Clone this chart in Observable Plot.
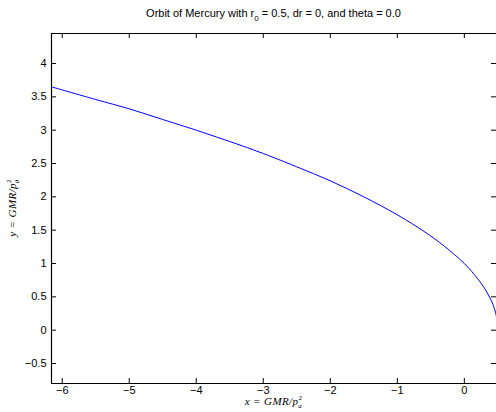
<!DOCTYPE html>
<html>
<head>
<meta charset="utf-8">
<script src="https://cdn.jsdelivr.net/npm/d3@7"></script>
<script src="https://cdn.jsdelivr.net/npm/@observablehq/plot@0.6"></script>
<style>
  body { margin: 0; background: #fff; overflow: hidden; }
  #chart { position: relative; width: 496px; height: 412px; overflow: hidden; }
  #title {
    position: absolute; top: 7px; left: 51px; width: 445px; text-align: center;
    font: 11px "Liberation Sans", Arial, sans-serif; color: #000; z-index: 2;
  }
  #title .sub { font-size: 8px; position: relative; top: 4px; }
</style>
</head>
<body>
<div id="chart">
  <div id="title">Orbit of Mercury with r<span class="sub">0</span> = 0.5, dr = 0, and theta = 0.0</div>
</div>
<script>
// Orbit trace, x = GMR/p_a^2 and y = GMR/p_theta^2
const orbitX = [-6.16, -5.5, -5.0, -4.5, -4.0, -3.5, -3.0, -2.5, -2.0, -1.5, -1.0, -0.6, -0.3, 0.0, 0.2, 0.3, 0.4, 0.45, 0.48, 0.5];
const orbitY = [3.65, 3.46, 3.32, 3.16, 3.0, 2.83, 2.65, 2.45, 2.24, 2.0, 1.73, 1.48, 1.26, 1.0, 0.77, 0.63, 0.45, 0.32, 0.2, 0.0];

const xTicks = [-6, -5, -4, -3, -2, -1, 0];
const yTicks = [-0.5, 0, 0.5, 1, 1.5, 2, 2.5, 3, 3.5, 4];

const xDomain = [-6.16, 0.48];
const yDomain = [-0.8, 4.45];

const orbit = orbitX.map((x, i) => ({x, y: orbitY[i]}));

const W = 496, H = 412;
const mL = 51, mR = 0, mT = 33, mB = 29;
const innerW = W - mL - mR, innerH = H - mT - mB;
const tick = 5;
const fmt = d3.format("~g");

const svg = Plot.plot({
  width: W,
  height: H,
  marginLeft: mL,
  marginRight: mR,
  marginTop: mT,
  marginBottom: mB,
  style: {fontFamily: '"Liberation Sans", Arial, sans-serif', fontSize: "11px", background: "#fff", color: "#000"},
  x: {domain: xDomain, label: null},
  y: {domain: yDomain, label: null},
  marks: [
    Plot.axisX(xTicks, {anchor: "bottom", tickSize: 0, tickPadding: 3, label: null, fill: "#000", tickFormat: fmt}),
    Plot.axisY(yTicks, {anchor: "left", tickSize: 0, tickPadding: 5, label: null, fill: "#000", tickFormat: fmt}),
    // inward tick marks on all four sides
    Plot.tickX(xTicks, {x: d => d, insetTop: innerH - tick, stroke: "#000"}),
    Plot.tickX(xTicks, {x: d => d, insetBottom: innerH - tick, stroke: "#000"}),
    Plot.tickY(yTicks, {y: d => d, insetRight: innerW - tick, stroke: "#000"}),
    Plot.tickY(yTicks, {y: d => d, insetLeft: innerW - tick, stroke: "#000"}),
    // box edges
    Plot.ruleX([xDomain[0]], {stroke: "#000", strokeWidth: 1.2}),
    Plot.ruleY([yDomain[0]], {stroke: "#000", strokeWidth: 1.2}),
    Plot.ruleY([yDomain[1]], {stroke: "#000", strokeWidth: 1.2}),
    Plot.line(orbit, {x: "x", y: "y", stroke: "#0000ff", strokeWidth: 1, curve: "catmull-rom", clip: true})
  ]
});

document.getElementById("chart").appendChild(svg);

// math-style axis labels with stacked sub/superscripts
const s = d3.select(svg);
const mathFont = '"Liberation Serif", "Times New Roman", serif';

const xl = s.append("text")
  .attr("x", mL + innerW / 2)
  .attr("y", 405)
  .attr("text-anchor", "middle")
  .style("font-family", mathFont)
  .style("font-style", "italic")
  .style("font-size", "11px")
  .style("letter-spacing", "0.4px")
  .attr("fill", "#000");
xl.append("tspan").text("x = GMR/p");
xl.append("tspan").attr("dy", -5).style("font-size", "7px").style("font-style", "normal").text("2");
xl.append("tspan").attr("dx", -4).attr("dy", 8).style("font-size", "7px").text("a");

const yl = s.append("text")
  .attr("transform", `translate(16,${mT + innerH / 2}) rotate(-90)`)
  .attr("text-anchor", "middle")
  .style("font-family", mathFont)
  .style("font-style", "italic")
  .style("font-size", "11px")
  .style("letter-spacing", "0.4px")
  .attr("fill", "#000");
yl.append("tspan").text("y = GMR/p");
yl.append("tspan").attr("dy", -5).style("font-size", "7px").style("font-style", "normal").text("2");
yl.append("tspan").attr("dx", -4).attr("dy", 8).style("font-size", "7px").text("θ");
</script>
</body>
</html>
